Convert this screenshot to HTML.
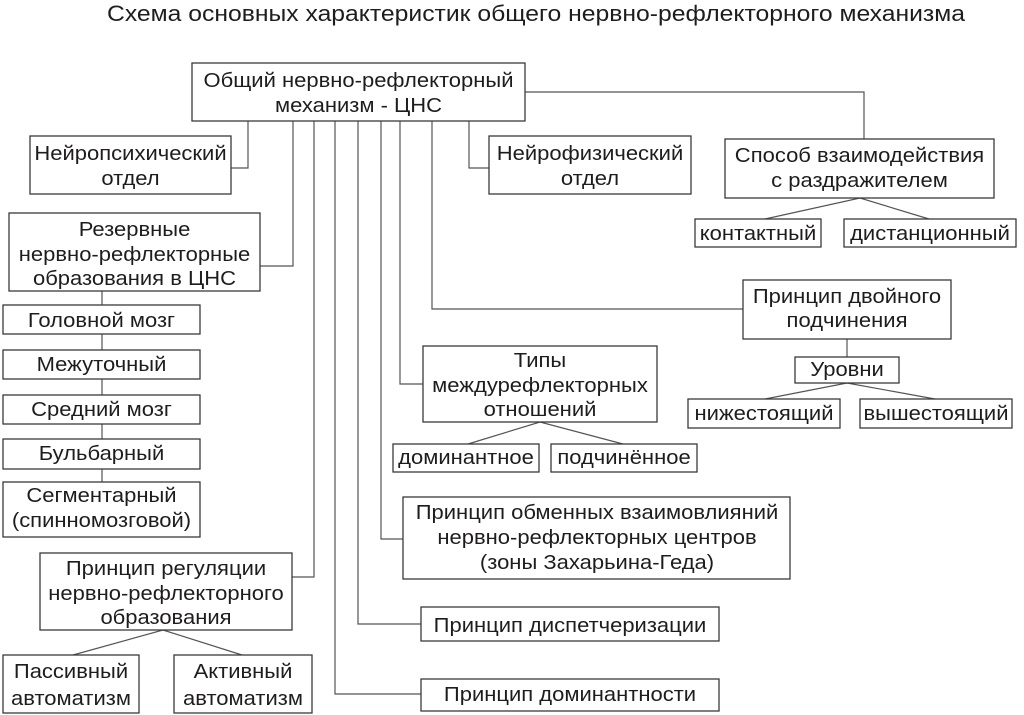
<!DOCTYPE html>
<html><head><meta charset="utf-8">
<style>
html,body{margin:0;padding:0;background:#fff;}
svg{display:block;}
text{font-family:"Liberation Sans","Noto Sans CJK SC",sans-serif;font-size:20px;fill:#1f1c1d;text-anchor:middle;}
.t{font-size:22px;text-anchor:start;}
rect{fill:#fff;stroke:#3a3a3a;stroke-width:1.3;}
.l{fill:none;stroke:#555;stroke-width:1.2;}
</style></head>
<body>
<svg width="1024" height="715" viewBox="0 0 1024 715" xmlns="http://www.w3.org/2000/svg">
<text class="t" x="107" y="21" textLength="858" lengthAdjust="spacingAndGlyphs">Схема основных характеристик общего нервно-рефлекторного механизма</text>

<!-- connectors -->
<polyline class="l" points="525,92 864,92 864,139"/>
<polyline class="l" points="248,121 248,168 231,168"/>
<polyline class="l" points="293,121 293,266 260,266"/>
<polyline class="l" points="314,121 314,577 292,577"/>
<polyline class="l" points="335,121 335,694 421,694"/>
<polyline class="l" points="358,121 358,624 421,624"/>
<polyline class="l" points="381,121 381,539 403,539"/>
<polyline class="l" points="400,121 400,384 423,384"/>
<polyline class="l" points="432,121 432,309 743,309"/>
<polyline class="l" points="469,121 469,168 489,168"/>
<line class="l" x1="102" y1="291" x2="102" y2="482"/>
<polyline class="l" points="765,219 860,198 929,219"/>
<polyline class="l" points="468,444 540,422 623,444"/>
<line class="l" x1="847" y1="339" x2="847" y2="357"/>
<polyline class="l" points="765,399 847,383 935,399"/>
<polyline class="l" points="73,655 163,630 242,655"/>

<!-- boxes -->
<rect x="192" y="63" width="333" height="58"/>
<rect x="30" y="136" width="201" height="58"/>
<rect x="9" y="213" width="251" height="78"/>
<rect x="489" y="136" width="202" height="58"/>
<rect x="725" y="139" width="269" height="59"/>
<rect x="695" y="219" width="126" height="28"/>
<rect x="844" y="219" width="172" height="28"/>
<rect x="743" y="280" width="208" height="59"/>
<rect x="795" y="357" width="104" height="26"/>
<rect x="688" y="399" width="152" height="29"/>
<rect x="860" y="399" width="152" height="29"/>
<rect x="423" y="346" width="234" height="76"/>
<rect x="393" y="444" width="146" height="28"/>
<rect x="551" y="444" width="146" height="28"/>
<rect x="403" y="497" width="387" height="82"/>
<rect x="421" y="607" width="298" height="34"/>
<rect x="421" y="679" width="298" height="32"/>
<rect x="3" y="305" width="197" height="29"/>
<rect x="3" y="350" width="197" height="29"/>
<rect x="3" y="395" width="197" height="29"/>
<rect x="3" y="439" width="197" height="30"/>
<rect x="3" y="482" width="197" height="55"/>
<rect x="40" y="553" width="252" height="77"/>
<rect x="3" y="655" width="136" height="58"/>
<rect x="174" y="655" width="138" height="58"/>

<!-- labels -->
<text transform="translate(358.5,0) scale(1.1,1)" y="87">Общий нервно-рефлекторный</text>
<text transform="translate(358.5,0) scale(1.1,1)" y="112">механизм - ЦНС</text>

<text transform="translate(130.5,0) scale(1.1,1)" y="160">Нейропсихический</text>
<text transform="translate(130.5,0) scale(1.1,1)" y="185">отдел</text>

<text transform="translate(134.5,0) scale(1.1,1)" y="236">Резервные</text>
<text transform="translate(134.5,0) scale(1.1,1)" y="261">нервно-рефлекторные</text>
<text transform="translate(134.5,0) scale(1.1,1)" y="285">образования в ЦНС</text>

<text transform="translate(590,0) scale(1.1,1)" y="160">Нейрофизический</text>
<text transform="translate(590,0) scale(1.1,1)" y="185">отдел</text>

<text transform="translate(859.5,0) scale(1.1,1)" y="162">Способ взаимодействия</text>
<text transform="translate(859.5,0) scale(1.1,1)" y="187">с раздражителем</text>

<text transform="translate(758,0) scale(1.1,1)" y="240">контактный</text>
<text transform="translate(930,0) scale(1.1,1)" y="240">дистанционный</text>

<text transform="translate(847,0) scale(1.1,1)" y="303">Принцип двойного</text>
<text transform="translate(847,0) scale(1.1,1)" y="327">подчинения</text>
<text transform="translate(847,0) scale(1.1,1)" y="376">Уровни</text>
<text transform="translate(764,0) scale(1.1,1)" y="420">нижестоящий</text>
<text transform="translate(936,0) scale(1.1,1)" y="420">вышестоящий</text>

<text transform="translate(540,0) scale(1.1,1)" y="367">Типы</text>
<text transform="translate(540,0) scale(1.1,1)" y="392">междурефлекторных</text>
<text transform="translate(540,0) scale(1.1,1)" y="416">отношений</text>
<text transform="translate(466,0) scale(1.1,1)" y="464">доминантное</text>
<text transform="translate(624,0) scale(1.1,1)" y="464">подчинённое</text>

<text transform="translate(597,0) scale(1.1,1)" y="519">Принцип обменных взаимовлияний</text>
<text transform="translate(597,0) scale(1.1,1)" y="544">нервно-рефлекторных центров</text>
<text transform="translate(597,0) scale(1.1,1)" y="569">(зоны Захарьина-Геда)</text>

<text transform="translate(570,0) scale(1.1,1)" y="632">Принцип диспетчеризации</text>
<text transform="translate(570,0) scale(1.1,1)" y="701">Принцип доминантности</text>

<text transform="translate(101.5,0) scale(1.1,1)" y="327">Головной мозг</text>
<text transform="translate(101.5,0) scale(1.1,1)" y="371">Межуточный</text>
<text transform="translate(101.5,0) scale(1.1,1)" y="416">Средний мозг</text>
<text transform="translate(101.5,0) scale(1.1,1)" y="460">Бульбарный</text>
<text transform="translate(101.5,0) scale(1.1,1)" y="502">Сегментарный</text>
<text transform="translate(101.5,0) scale(1.1,1)" y="527">(спинномозговой)</text>

<text transform="translate(166,0) scale(1.1,1)" y="575">Принцип регуляции</text>
<text transform="translate(166,0) scale(1.1,1)" y="600">нервно-рефлекторного</text>
<text transform="translate(166,0) scale(1.1,1)" y="624">образования</text>

<text transform="translate(71,0) scale(1.1,1)" y="678">Пассивный</text>
<text transform="translate(71,0) scale(1.1,1)" y="705">автоматизм</text>
<text transform="translate(243,0) scale(1.1,1)" y="678">Активный</text>
<text transform="translate(243,0) scale(1.1,1)" y="705">автоматизм</text>
</svg>
</body></html>
